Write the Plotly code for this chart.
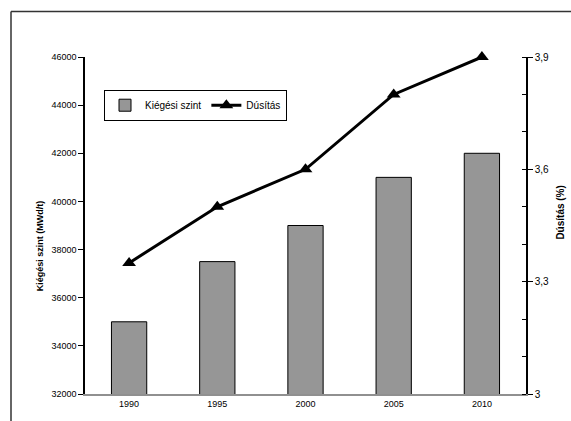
import plotly.graph_objects as go

years = ["1990", "1995", "2000", "2005", "2010"]
burnup = [35000, 37500, 39000, 41000, 42000]
enrich = [3.35, 3.5, 3.6, 3.8, 3.9]
left_ticks = [32000, 34000, 36000, 38000, 40000, 42000, 44000, 46000]
left_labels = [str(v) for v in left_ticks]
right_ticks = [3.0, 3.3, 3.6, 3.9]
right_labels = ["3", "3,3", "3,6", "3,9"]

W, H = 571, 421
L, R, T, B = 85, 526, 57, 397
pw, ph = R - L, B - T

def px(x):
    return (x - L) / pw

def py(y):
    return (B - y) / ph

font = "Liberation Sans, Arial, sans-serif"

fig = go.Figure()
fig.add_trace(go.Bar(
    x=years, y=burnup, name="Kiégési szint",
    marker=dict(color="#969696", line=dict(color="black", width=1)),
    width=0.4,
))
fig.add_trace(go.Scatter(
    x=years, y=enrich, name="Dúsítás", yaxis="y2",
    mode="lines+markers", cliponaxis=False,
    line=dict(color="black", width=3),
    marker=dict(symbol="triangle-up", size=12, color="black"),
))

fig.update_layout(
    width=W, height=H,
    margin=dict(l=L, r=W - R, t=T, b=H - B),
    paper_bgcolor="white", plot_bgcolor="white",
    font=dict(family=font, size=9, color="black"),
    showlegend=True,
    legend=dict(
        x=px(104), y=py(90), xanchor="left", yanchor="top",
        orientation="h", bordercolor="black", borderwidth=1,
        bgcolor="white", font=dict(size=10), itemwidth=30,
    ),
    xaxis=dict(
        type="category", range=[-0.5, 4.5],
        showline=True, linecolor="#909090", linewidth=2,
        ticks="", showgrid=False, tickfont=dict(size=9),
    ),
    yaxis=dict(
        range=[32000, 46000], tickvals=left_ticks, ticktext=left_labels,
        showline=True, linecolor="black", linewidth=1.5,
        ticks="outside", ticklen=5, tickcolor="black", tickwidth=1,
        showgrid=False, zeroline=False, tickfont=dict(size=9),
    ),
    yaxis2=dict(
        overlaying="y", side="right", anchor="x",
        range=[3.0, 3.9], tickvals=right_ticks, ticktext=right_labels,
        showline=True, linecolor="black", linewidth=1.5,
        ticks="outside", ticklen=5, tickcolor="black", tickwidth=1,
        minor=dict(dtick=0.1, ticks="inside", ticklen=4, tickcolor="black"),
        showgrid=False, zeroline=False, tickfont=dict(size=10),
    ),
    annotations=[
        dict(text="<b>Kiégési szint (MWd/t)</b>", textangle=-90,
             x=px(40), y=py(248), xref="paper", yref="paper",
             xanchor="center", yanchor="middle",
             showarrow=False, font=dict(size=9)),
        dict(text="<b>Dúsítás (%)</b>", textangle=-90,
             x=px(561), y=py(214), xref="paper", yref="paper",
             xanchor="center", yanchor="middle",
             showarrow=False, font=dict(size=10)),
    ],
    shapes=[
        dict(type="line", xref="paper", yref="paper",
             x0=px(11), x1=px(11), y0=py(11), y1=py(425),
             line=dict(color="#333333", width=1.5)),
        dict(type="line", xref="paper", yref="paper",
             x0=px(11), x1=px(575), y0=py(11), y1=py(11),
             line=dict(color="#333333", width=1.5)),
    ],
)

fig.write_html("out.html")
